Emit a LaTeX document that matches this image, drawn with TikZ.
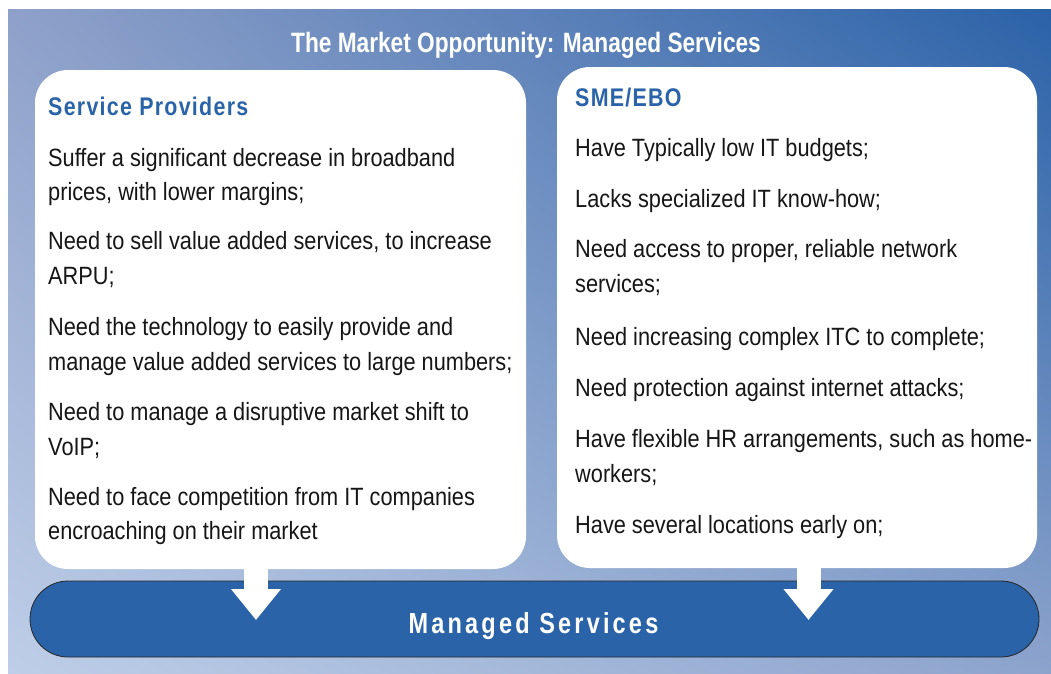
\documentclass[tikz,border=0pt]{standalone}
\usepackage{fontspec}
\setmainfont{Liberation Sans}[FakeStretch=0.87]
\newfontfamily\titlefont{Liberation Sans}[FakeStretch=0.81]
\newfontfamily\headfont{Liberation Sans}[FakeStretch=0.84,LetterSpace=5]
\newfontfamily\pillfont{Liberation Sans}[FakeStretch=0.81,LetterSpace=11]
\usetikzlibrary{arrows.meta}
\definecolor{mblue}{RGB}{42,99,168}
\definecolor{txt}{RGB}{22,22,22}
% bilinear background: BL light, TR dark
\pgfdeclarefunctionalshading{bgshade}{\pgfpointorigin}{\pgfpoint{100bp}{100bp}}{}{
  25 sub 50 div exch 25 sub 50 div exch
  2 copy mul
  2 index -0.195 mul 2 index -0.185 mul add 1 index -0.2 mul add 0.745 add 4 1 roll
  2 index -0.168 mul 2 index -0.178 mul add 1 index -0.078 mul add 0.808 add 4 1 roll
  2 index -0.11 mul 2 index -0.12 mul add 1 index -0.021 mul add 0.91 add 4 1 roll
  pop pop pop
}
\tikzset{
  panel/.style={fill=white, draw=none, rounded corners=33pt, inner sep=0pt},
  pill/.style={fill=mblue, draw=black!85, line width=0.8pt, rounded corners=38pt, inner sep=0pt},
  bigarrow/.style={draw=white, line width=24pt, -{Triangle[width=48pt,length=31pt]}},
  body/.style={anchor=base west, inner sep=0pt, text=txt, font=\fontsize{25}{30}\selectfont},
  head/.style={anchor=base west, inner sep=0pt, text=mblue, font=\headfont\bfseries\fontsize{25.5}{30}\selectfont},
}
\begin{document}
\begin{tikzpicture}[x=1pt,y=-1pt]
\useasboundingbox (0,0) rectangle (1051,673);
\fill[white] (0,0) rectangle (1051,673);
\shade[shading=bgshade] (8,9) rectangle (1051,673);

\node[panel, minimum width=491pt, minimum height=499pt] (sp) at (280.5,319.5) {};
\node[panel, minimum width=480pt, minimum height=501pt] (sme) at (797,317.5) {};
\node[pill, minimum width=1009pt, minimum height=76pt] (ms) at (534.5,619) {};

\coordinate (t1) at (256,620);
\coordinate (t2) at (808.5,620);
\draw[bigarrow] (sp.south -| t1) -- (t1);
\draw[bigarrow] (sme.south -| t2) -- (t2);

\node[anchor=base, inner sep=0pt, text=white, font=\titlefont\bfseries\fontsize{28}{32}\selectfont] (title) at (526,52) {The Market Opportunity: Managed Services};
\node[anchor=base, inner sep=0pt, text=white, font=\pillfont\bfseries\fontsize{29}{32}\selectfont] (mslabel) at (533.5,633) {Managed Services};

\node[head] (sph) at (48,115) {Service Providers};
\node[head] (smeh) at (575,106) {SME/EBO};

\node[body] (l1) at (48,166) {Suffer a significant decrease in broadband};
\node[body] (l2) at (48,200.5) {prices, with lower margins;};
\node[body] (l3) at (48,249) {Need to sell value added services, to increase};
\node[body] (l4) at (48,284) {ARPU;};
\node[body] (l5) at (48,335) {Need the technology to easily provide and};
\node[body] (l6) at (48,370) {manage value added services to large numbers;};
\node[body] (l7) at (48,420) {Need to manage a disruptive market shift to};
\node[body] (l8) at (48,455) {VoIP;};
\node[body] (l9) at (48,505) {Need to face competition from IT companies};
\node[body] (l10) at (48,539) {encroaching on their market};

\node[body] (r1) at (575,156) {Have Typically low IT budgets;};
\node[body] (r2) at (575,207) {Lacks specialized IT know-how;};
\node[body] (r3) at (575,257) {Need access to proper, reliable network};
\node[body] (r4) at (575,292) {services;};
\node[body] (r5) at (575,345) {Need increasing complex ITC to complete;};
\node[body] (r6) at (575,396) {Need protection against internet attacks;};
\node[body] (r7) at (575,447) {Have flexible HR arrangements, such as home-};
\node[body] (r8) at (575,482) {workers;};
\node[body] (r9) at (575,533) {Have several locations early on;};
\end{tikzpicture}
\end{document}
